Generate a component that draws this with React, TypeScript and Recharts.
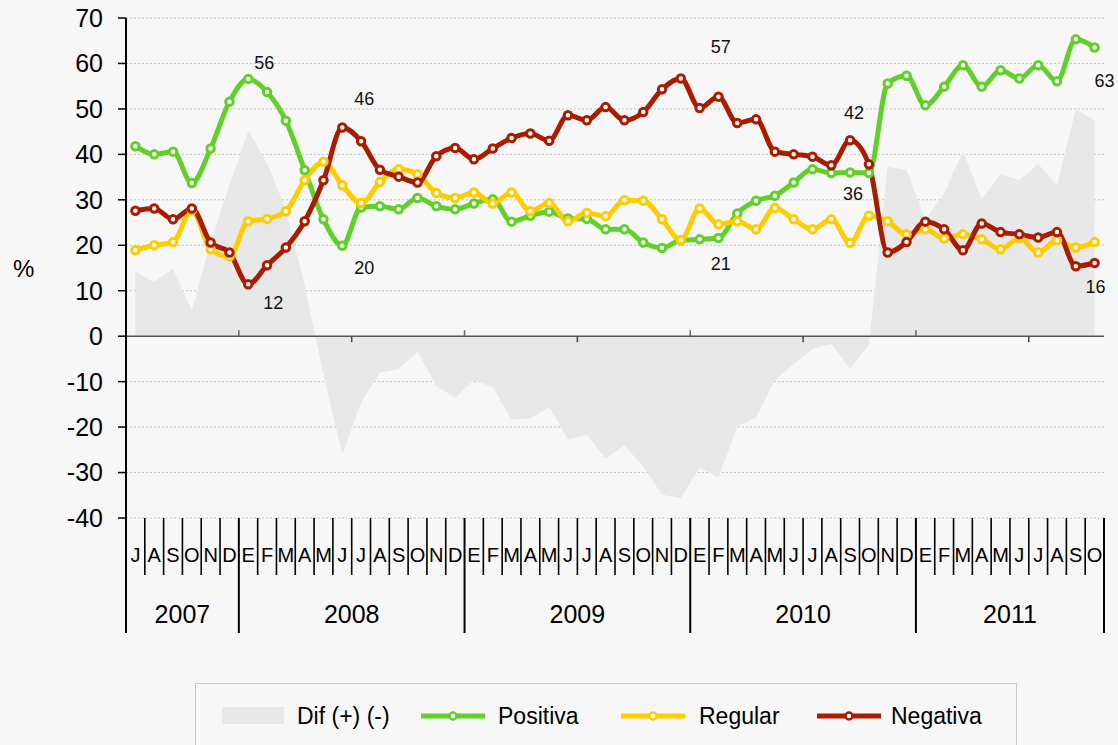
import { ComposedChart, Area, Line, XAxis, YAxis, CartesianGrid, ReferenceLine } from 'recharts';

// Meses por año (E = enero ... D = diciembre)
const anios = ['2007', '2008', '2009', '2010', '2011'];
const primerMes = [7, 1, 1, 1, 1];
const mesesPorAnio = [
  ['J', 'A', 'S', 'O', 'N', 'D'],
  ['E', 'F', 'M', 'A', 'M', 'J', 'J', 'A', 'S', 'O', 'N', 'D'],
  ['E', 'F', 'M', 'A', 'M', 'J', 'J', 'A', 'S', 'O', 'N', 'D'],
  ['E', 'F', 'M', 'A', 'M', 'J', 'J', 'A', 'S', 'O', 'N', 'D'],
  ['E', 'F', 'M', 'A', 'M', 'J', 'J', 'A', 'S', 'O'],
];

const positiva = [
  41.8, 40.0, 40.6, 33.7, 41.3, 51.6, 56.6, 53.7, 47.4, 36.5,
  25.7, 19.9, 28.3, 28.6, 27.9, 30.4, 28.6, 27.9, 29.2, 30.1,
  25.2, 26.5, 27.4, 25.9, 25.8, 23.5, 23.5, 20.6, 19.4, 21.1,
  21.3, 21.6, 27.0, 29.8, 30.9, 33.8, 36.7, 35.9, 36.0, 35.9,
  55.6, 57.3, 50.8, 54.9, 59.6, 54.9, 58.5, 56.7, 59.6, 56.1,
  65.3, 63.5,
];
const regular = [
  18.9, 20.0, 20.7, 27.7, 19.1, 17.5, 25.3, 25.8, 27.5, 34.3,
  38.4, 33.2, 29.3, 33.9, 36.7, 35.6, 31.5, 30.4, 31.6, 29.2,
  31.6, 27.5, 29.3, 25.3, 27.1, 26.4, 29.9, 29.8, 25.7, 21.1,
  28.1, 24.6, 25.3, 23.5, 28.2, 25.7, 23.5, 25.7, 20.5, 26.5,
  25.3, 22.4, 23.5, 21.5, 22.4, 21.3, 19.1, 21.6, 18.4, 21.1,
  19.5, 20.7,
];
const negativa = [
  27.6, 28.1, 25.7, 28.1, 20.6, 18.4, 11.4, 15.6, 19.5, 25.3,
  34.3, 45.9, 42.9, 36.6, 35.1, 33.8, 39.6, 41.4, 38.9, 41.3,
  43.6, 44.6, 43.0, 48.6, 47.5, 50.4, 47.5, 49.3, 54.3, 56.7,
  50.2, 52.7, 46.9, 47.7, 40.6, 40.0, 39.5, 37.6, 43.1, 37.8,
  18.4, 20.7, 25.2, 23.5, 18.9, 24.8, 22.9, 22.4, 21.7, 22.9,
  15.4, 16.1,
];
// Dif (+) (-): positiva - negativa
const dif = [
  14.2, 11.9, 14.9, 5.6, 20.7, 33.2, 45.2, 38.1, 27.9, 11.2,
  -8.6, -26.0, -14.6, -8.0, -7.2, -3.4, -11.0, -13.5, -9.7, -11.2,
  -18.4, -18.1, -15.6, -22.7, -21.7, -26.9, -24.0, -28.7, -34.9, -35.6,
  -28.9, -31.1, -19.9, -17.9, -9.7, -6.2, -2.8, -1.7, -7.1, -1.9,
  37.2, 36.6, 25.6, 31.4, 40.7, 30.1, 35.6, 34.3, 37.9, 33.2,
  49.9, 47.4,
];

const yTicks = [-40, -30, -20, -10, 0, 10, 20, 30, 40, 50, 60, 70];

// valores destacados
const etiquetas = [
  { serie: 'positiva', indice: 6, texto: '56' },
  { serie: 'negativa', indice: 6, texto: '12' },
  { serie: 'negativa', indice: 11, texto: '46' },
  { serie: 'positiva', indice: 11, texto: '20' },
  { serie: 'negativa', indice: 29, texto: '57' },
  { serie: 'positiva', indice: 29, texto: '21' },
  { serie: 'negativa', indice: 38, texto: '42' },
  { serie: 'positiva', indice: 38, texto: '36' },
  { serie: 'positiva', indice: 51, texto: '63' },
  { serie: 'negativa', indice: 51, texto: '16' },
];
const desplazamiento: Record<string, [number, number]> = {
  'positiva-6': [16, -16],
  'negativa-6': [25, 19],
  'negativa-11': [22, -29],
  'positiva-11': [22, 22],
  'negativa-29': [40, -31],
  'positiva-29': [40, 24],
  'negativa-38': [4, -27],
  'positiva-38': [3, 21],
  'positiva-51': [10, 33],
  'negativa-51': [1, 24],
};

const VERDE = '#62cf2a';
const AMARILLO = '#ffcc00';
const ROJO = '#a81c00';
const GRIS = '#e8e8e8';
const FONDO = '#f7f7f7';

const datos: any[] = [];
{
  let k = 0;
  anios.forEach((anio, a) => {
    mesesPorAnio[a].forEach((mes, j) => {
      datos.push({
        mes,
        anio,
        num: primerMes[a] + j,
        inicioAnio: j === 0,
        mesesAnio: mesesPorAnio[a].length,
        positiva: positiva[k],
        regular: regular[k],
        negativa: negativa[k],
        dif: dif[k],
      });
      k++;
    });
  });
}

const W = 1118;
const H = 745;
const MARGIN = { top: 18, right: 14, bottom: 107, left: 0 };
const Y_AXIS_W = 126;
const PLOT_W = W - MARGIN.left - MARGIN.right - Y_AXIS_W;
const PLOT_H = 500;
const STEP = PLOT_W / datos.length;

function MesTick(props: any) {
  const { x, y, payload } = props;
  const i = payload.index;
  const d = datos[i];
  const izq = x - STEP / 2;
  const ceroY = y - (PLOT_H * (0 - yTicks[0])) / (yTicks[yTicks.length - 1] - yTicks[0]);
  return (
    <g>
      {d.inicioAnio ? (
        <>
          <line x1={izq} x2={izq} y1={y} y2={y + 115} stroke="#000" strokeWidth={2} />
          <text x={izq + (d.mesesAnio * STEP) / 2} y={y + 105} textAnchor="middle" fontSize={25} fill="#000">
            {d.anio}
          </text>
        </>
      ) : (
        <line x1={izq} x2={izq} y1={y} y2={y + 57} stroke="#000" strokeWidth={1.6} />
      )}
      {i === datos.length - 1 && (
        <line x1={x + STEP / 2} x2={x + STEP / 2} y1={y} y2={y + 115} stroke="#000" strokeWidth={2} />
      )}
      {i > 0 && d.num === 1 && <line x1={izq} x2={izq} y1={ceroY - 6} y2={ceroY} stroke="#666" strokeWidth={1.5} />}
      {i > 0 && d.num === 7 && <line x1={izq} x2={izq} y1={ceroY} y2={ceroY + 6} stroke="#444" strokeWidth={1.5} />}
      <text x={x} y={y + 44} textAnchor="middle" fontSize={20} fill="#000">
        {d.mes}
      </text>
    </g>
  );
}

const etiquetar = (serie: string) => (p: any) => {
  const e = etiquetas.find((l) => l.serie === serie && l.indice === p.index);
  if (!e) return <g />;
  const [dx, dy] = desplazamiento[`${serie}-${p.index}`];
  return (
    <text x={p.x + dx} y={p.y + dy} textAnchor="middle" dominantBaseline="central" fontSize={18} fill="#111">
      {e.texto}
    </text>
  );
};

function IconoLinea({ color }: { color: string }) {
  return (
    <svg width={64} height={14} style={{ position: 'absolute', top: 0, left: 0 }}>
      <line x1={0} x2={64} y1={7} y2={7} stroke={color} strokeWidth={5} />
      <circle cx={32} cy={7} r={3.5} fill="#fff" stroke={color} strokeWidth={2.5} />
    </svg>
  );
}

function Leyenda() {
  const texto = { position: 'absolute' as const, top: 18, fontSize: 23, color: '#000', lineHeight: '28px' };
  return (
    <div
      style={{
        position: 'absolute',
        left: 195,
        top: 683,
        width: 822,
        height: 80,
        border: '1px solid #c8c8c8',
        background: FONDO,
        boxSizing: 'border-box',
      }}
    >
      <div style={{ position: 'absolute', left: 26, top: 23, width: 62, height: 17, background: GRIS }} />
      <div style={{ ...texto, left: 101 }}>Dif (+) (-)</div>
      <div style={{ position: 'absolute', left: 225, top: 25 }}>
        <IconoLinea color={VERDE} />
      </div>
      <div style={{ ...texto, left: 302 }}>Positiva</div>
      <div style={{ position: 'absolute', left: 425, top: 25 }}>
        <IconoLinea color={AMARILLO} />
      </div>
      <div style={{ ...texto, left: 503 }}>Regular</div>
      <div style={{ position: 'absolute', left: 621, top: 25 }}>
        <IconoLinea color={ROJO} />
      </div>
      <div style={{ ...texto, left: 695 }}>Negativa</div>
    </div>
  );
}

const lineaProps = (color: string) => ({
  type: 'monotone' as const,
  stroke: color,
  strokeWidth: 5,
  dot: { r: 3.75, fill: '#fff', stroke: color, strokeWidth: 3 },
  activeDot: false as const,
  isAnimationActive: false,
});

export default function App() {
  return (
    <div
      style={{
        position: 'absolute',
        left: 0,
        top: 0,
        width: W,
        height: H,
        overflow: 'hidden',
        background: FONDO,
        fontFamily: "'Liberation Sans', Arial, sans-serif",
      }}
    >
      <ComposedChart width={W} height={H} data={datos} margin={MARGIN}>
        <CartesianGrid vertical={false} stroke="#c4c4c4" strokeDasharray="2 2" />
        <XAxis
          dataKey="mes"
          interval={0}
          padding={{ left: STEP / 2, right: STEP / 2 }}
          axisLine={false}
          tickLine={false}
          tickSize={0}
          tickMargin={0}
          height={120}
          tick={<MesTick />}
        />
        <YAxis
          type="number"
          domain={[-40, 70]}
          ticks={yTicks}
          interval={0}
          width={Y_AXIS_W}
          axisLine={{ stroke: '#000', strokeWidth: 2 }}
          tickLine={{ stroke: '#000', strokeWidth: 1.5 }}
          tickSize={8}
          tickMargin={15}
          tick={{ fontSize: 25, fill: '#000' }}
          label={{ value: '%', position: 'insideLeft', offset: 13, fontSize: 24, fill: '#000' }}
        />
        <Area
          dataKey="dif"
          type="linear"
          fill={GRIS}
          fillOpacity={1}
          stroke="none"
          isAnimationActive={false}
          activeDot={false}
        />
        <ReferenceLine y={0} stroke="#555" strokeWidth={1.5} />
        <Line dataKey="positiva" {...lineaProps(VERDE)} label={etiquetar('positiva')} />
        <Line dataKey="regular" {...lineaProps(AMARILLO)} />
        <Line dataKey="negativa" {...lineaProps(ROJO)} label={etiquetar('negativa')} />
      </ComposedChart>
      <Leyenda />
    </div>
  );
}
